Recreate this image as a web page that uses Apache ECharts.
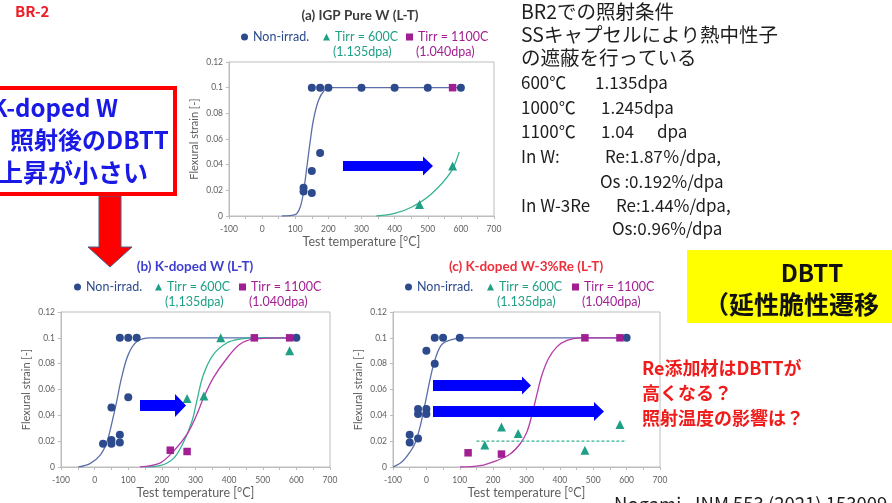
<!DOCTYPE html>
<html>
<head>
<meta charset="utf-8">
<script src="https://cdn.jsdelivr.net/npm/echarts/dist/echarts.min.js"></script>
<style>
html, body { margin: 0; padding: 0; background: #ffffff; }
#c { width: 892px; height: 503px; }
</style>
</head>
<body>
<div id="c"></div>
<script>
// ---- axis ticks ----
const tempTicks = [-100, 0, 100, 200, 300, 400, 500, 600, 700];
const strainTicks = [0, 0.02, 0.04, 0.06, 0.08, 0.1, 0.12];

// ---- legend labels ----
const seriesNames = ['Non-irrad.', 'Tirr = 600C', 'Tirr = 1100C'];
const doseLabels = ['(1.135dpa)', '(1.040dpa)'];
const doseLabelsB = ['(1,135dpa)', '(1.040dpa)'];

// ---- (a) IGP Pure W (L-T) : [test temperature, flexural strain] ----
const pureW_nonIrrad = [[125, 0.022], [125, 0.019], [150, 0.035], [150, 0.018], [175, 0.049],
  [150, 0.1], [175, 0.1], [200, 0.1], [300, 0.1], [400, 0.1], [500, 0.1], [600, 0.1]];
const pureW_600 = [[475, 0.009], [575, 0.039]];
const pureW_1100 = [[575, 0.1]];
const pureW_fitNonIrrad = [[60, 0], [100, 0.001], [115, 0.007], [125, 0.019], [135, 0.038],
  [145, 0.058], [155, 0.075], [170, 0.09], [188, 0.098], [204, 0.1], [600, 0.1]];
const pureW_fit600 = [[345, 0], [400, 0.002], [452, 0.007], [510, 0.017], [569, 0.034], [595, 0.05]];

// ---- (b) K-doped W (L-T) ----
const kW_nonIrrad = [[25, 0.018], [50, 0.018], [50, 0.021], [50, 0.046], [75, 0.019], [75, 0.025],
  [100, 0.054], [75, 0.1], [100, 0.1], [125, 0.1], [600, 0.1]];
const kW_600 = [[275, 0.053], [325, 0.055], [375, 0.1], [580, 0.09]];
const kW_1100 = [[225, 0.013], [275, 0.012], [475, 0.1], [580, 0.1]];
const kW_fitNonIrrad = [[-48, 0], [-14, 0.0026], [16, 0.009], [36, 0.019], [52, 0.035], [65, 0.05],
  [80, 0.069], [100, 0.087], [125, 0.097], [165, 0.1], [600, 0.1]];
const kW_fit600 = [[150, 0], [194, 0.001], [234, 0.0065], [264, 0.019], [289, 0.035], [303, 0.05],
  [323, 0.071], [353, 0.087], [393, 0.096], [432, 0.099], [472, 0.1], [580, 0.1]];
const kW_fit1100 = [[135, 0], [194, 0.003], [234, 0.012], [274, 0.025], [303, 0.04], [323, 0.053],
  [353, 0.069], [393, 0.084], [432, 0.095], [472, 0.099], [580, 0.1]];

// ---- (c) K-doped W-3%Re (L-T) ----
const kWRe_nonIrrad = [[-50, 0.025], [-50, 0.019], [-25, 0.022], [-25, 0.045], [-25, 0.041],
  [0, 0.045], [0, 0.041], [0, 0.09], [25, 0.08], [25, 0.1], [50, 0.1], [100, 0.1], [600, 0.1]];
const kWRe_600 = [[175, 0.017], [225, 0.031], [275, 0.026], [475, 0.013], [580, 0.033]];
const kWRe_1100 = [[125, 0.011], [225, 0.01], [475, 0.1], [580, 0.1]];
const kWRe_fitNonIrrad = [[-100, 0], [-73, 0.004], [-48, 0.012], [-33, 0.019], [-18, 0.032], [-3, 0.05],
  [12, 0.069], [27, 0.084], [47, 0.095], [82, 0.099], [112, 0.1], [600, 0.1]];
const kWRe_fit1100 = [[101, 0], [161, 0.001], [211, 0.005], [251, 0.01], [281, 0.018], [301, 0.027],
  [316, 0.04], [331, 0.056], [346, 0.071], [366, 0.084], [391, 0.093], [421, 0.098], [461, 0.1], [580, 0.1]];
const kWRe_level600 = [[150, 0.02], [600, 0.02]];

// ---- slide text ----
const slideTag = 'BR-2';
const calloutLines = ['K-doped W', '照射後のDBTT', '上昇が小さい'];
const conditionLines = ['BR2での照射条件', 'SSキャプセルにより熱中性子', 'の遮蔽を行っている'];
const doseRows = [['600℃', '1.135dpa'], ['1000℃', '1.245dpa'], ['1100℃', '1.04', 'dpa']];
const transmutationRows = [['In W:', 'Re:1.87％/dpa,'], ['', 'Os :0.192%/dpa'], ['In W-3Re', 'Re:1.44%/dpa,'], ['', 'Os:0.96%/dpa']];
const dbttBox = ['DBTT', '（延性脆性遷移'];
const questionLines = ['Re添加材はDBTTが', '高くなる？', '照射温度の影響は？'];
const citation = 'Nogami, JNM 553 (2021) 153009';

// ---- styling ----
const FONT = "Lato, 'Noto Sans CJK JP', sans-serif";
const JFONT = "'Noto Sans CJK JP', sans-serif";
const NAVY = '#2c4a8c', NAVY_LINE = '#5b6ea9';
const TEAL = '#1f9f85', TEAL_LINE = '#35b393';
const MAG = '#a21f93', MAG_LINE = '#b43ca9';
const AXIS_GRAY = '#bdbdbd', LABEL_GRAY = '#5f5f5f';

const panels = [
  { title: '(a) IGP Pure W (L-T)', titleColor: '#3b3b3b', doses: doseLabels,
    non: pureW_nonIrrad, t600: pureW_600, t1100: pureW_1100,
    fitNon: pureW_fitNonIrrad, fit600: pureW_fit600, fit1100: null, level600: null,
    grid: { left: 229, top: 62, width: 265, height: 154 },
    titleX: 360, titleY: 17, legendTextX: [252, 334, 417], legendY: 37, doseY: 52 },
  { title: '(b) K-doped W (L-T)', titleColor: '#3d3dcf', doses: doseLabelsB,
    non: kW_nonIrrad, t600: kW_600, t1100: kW_1100,
    fitNon: kW_fitNonIrrad, fit600: kW_fit600, fit1100: kW_fit1100, level600: null,
    grid: { left: 61, top: 312, width: 269, height: 155 },
    titleX: 195, titleY: 268, legendTextX: [85, 166, 250], legendY: 287, doseY: 302 },
  { title: '(c) K-doped W-3%Re (L-T)', titleColor: '#ee2e3a', doses: doseLabels,
    non: kWRe_nonIrrad, t600: kWRe_600, t1100: kWRe_1100,
    fitNon: kWRe_fitNonIrrad, fit600: null, fit1100: kWRe_fit1100, level600: kWRe_level600,
    grid: { left: 393, top: 312, width: 267, height: 155 },
    titleX: 526, titleY: 268, legendTextX: [416, 498, 583], legendY: 287, doseY: 302 }
];

const grids = [], xAxes = [], yAxes = [], series = [], titles = [], legends = [], graphics = [];

panels.forEach((p, i) => {
  grids.push(Object.assign({ show: true, borderColor: AXIS_GRAY, borderWidth: 1, backgroundColor: 'transparent' }, p.grid));
  xAxes.push({
    gridIndex: i, type: 'value',
    min: tempTicks[0], max: tempTicks[tempTicks.length - 1], interval: tempTicks[1] - tempTicks[0],
    name: 'Test temperature [°C]', nameLocation: 'middle', nameGap: 20,
    nameTextStyle: { fontFamily: FONT, fontSize: 12.5, color: LABEL_GRAY },
    axisLine: { show: true, onZero: false, lineStyle: { color: AXIS_GRAY } },
    axisTick: { show: true, length: 3, lineStyle: { color: AXIS_GRAY } },
    minorTick: { show: true, splitNumber: 2, length: 3, lineStyle: { color: AXIS_GRAY } },
    axisLabel: { fontFamily: FONT, fontSize: 8.5, color: LABEL_GRAY, margin: 9 },
    splitLine: { show: false }
  });
  yAxes.push({
    gridIndex: i, type: 'value',
    min: strainTicks[0], max: strainTicks[strainTicks.length - 1], interval: strainTicks[1] - strainTicks[0],
    name: 'Flexural strain [-]', nameLocation: 'middle', nameGap: 29,
    nameTextStyle: { fontFamily: FONT, fontSize: 11, color: LABEL_GRAY },
    axisLine: { show: true, onZero: false, lineStyle: { color: AXIS_GRAY } },
    axisTick: { show: true, length: 3, lineStyle: { color: AXIS_GRAY } },
    axisLabel: { fontFamily: FONT, fontSize: 8.5, color: LABEL_GRAY, margin: 6 },
    splitLine: { show: false }
  });

  const fitLine = (name, data, color, dashed) => ({
    name, type: 'line', xAxisIndex: i, yAxisIndex: i, data,
    smooth: 0.35, showSymbol: false, symbol: 'none', silent: true, z: 2,
    lineStyle: { color, width: 1.3, type: dashed ? [3, 2] : 'solid' }
  });
  if (p.fitNon) series.push(fitLine('fit-non-' + i, p.fitNon, NAVY_LINE));
  if (p.fit600) series.push(fitLine('fit-600-' + i, p.fit600, TEAL_LINE));
  if (p.fit1100) series.push(fitLine('fit-1100-' + i, p.fit1100, MAG_LINE));
  if (p.level600) series.push(Object.assign(fitLine('level-600-' + i, p.level600, TEAL_LINE, true), { smooth: false }));

  const pts = (name, data, symbol, color, size) => ({
    name, type: 'scatter', xAxisIndex: i, yAxisIndex: i, data, symbol, symbolSize: size, z: 3,
    itemStyle: { color, opacity: 1 }
  });
  series.push(pts(seriesNames[0], p.non, 'circle', NAVY, 8));
  series.push(pts(seriesNames[1], p.t600, 'triangle', TEAL, 9));
  series.push(pts(seriesNames[2], p.t1100, 'rect', MAG, 7.5));

  titles.push({
    text: p.title, left: p.titleX, top: p.titleY - 8, textAlign: 'center', padding: 0,
    textStyle: { fontFamily: FONT, fontSize: 13.5, fontWeight: 'bold', color: p.titleColor }
  });

  const legendColors = [NAVY, TEAL, MAG];
  const icons = ['circle', 'triangle', 'rect'];
  seriesNames.forEach((nm, k) => {
    legends.push({
      left: p.legendTextX[k] - 11, top: p.legendY - 7, padding: 0,
      itemWidth: 7, itemHeight: 7, itemGap: 0, selectedMode: false,
      data: [{ name: nm, icon: icons[k], textStyle: { color: legendColors[k] } }],
      textStyle: { fontFamily: FONT, fontSize: 12.5, lineHeight: 14 }
    });
  });
  p.doses.forEach((d, k) => {
    graphics.push({ type: 'text', x: p.legendTextX[k + 1] - 1, y: p.doseY, z: 10, silent: true,
      style: { text: d, fill: legendColors[k + 1], font: '12.5px ' + FONT, verticalAlign: 'middle', textVerticalAlign: 'middle' } });
  });
});

// ---- slide annotations ----
const txt = (text, x, y, font, fill, align) => ({
  type: 'text', x, y, z: 20, silent: true,
  style: { text, fill, font, align: align || 'left', textAlign: align || 'left', verticalAlign: 'middle', textVerticalAlign: 'middle' }
});

graphics.push(txt(slideTag, 15, 11, 'bold 15px ' + JFONT, '#ee1c25'));

// callout box with downward arrow
graphics.push({ type: 'rect', z: 15, silent: true, shape: { x: -10, y: 88, width: 185, height: 106 },
  style: { fill: '#ffffff', stroke: '#ff0000', lineWidth: 4 } });
graphics.push(txt(calloutLines[0], -9, 108, 'bold 24px ' + JFONT, '#1a1ae6'));
graphics.push(txt(calloutLines[1], 10, 140, 'bold 24px ' + JFONT, '#1a1ae6'));
graphics.push(txt(calloutLines[2], 148, 172, 'bold 25px ' + JFONT, '#1a1ae6', 'right'));
graphics.push({ type: 'polygon', z: 14, silent: true,
  shape: { points: [[99, 196], [121, 196], [121, 247], [132, 247], [110, 267], [88, 247], [99, 247]] },
  style: { fill: '#ff0000', stroke: '#44618f', lineWidth: 1 } });

// shift arrows
const arrow = (x0, x1, xt, yc, sh, hh) => ({
  type: 'polygon', z: 12, silent: true,
  shape: { points: [[x0, yc - sh], [x1, yc - sh], [x1, yc - hh], [xt, yc], [x1, yc + hh], [x1, yc + sh], [x0, yc + sh]] },
  style: { fill: '#0000ff' }
});
graphics.push(arrow(343, 423, 433, 166, 5, 9.5));
graphics.push(arrow(140, 175, 186, 405.5, 5.5, 11.5));
graphics.push(arrow(433, 522, 531, 385.5, 5.5, 9));
graphics.push(arrow(433, 594, 604, 411.5, 5.5, 9.5));

// irradiation condition notes
const NOTE_FONT = '17px ' + JFONT, NOTE_JP_FONT = '19.5px ' + JFONT, NOTE_COLOR = '#1e1e1e';
const noteY = [12, 35, 58, 83, 108, 132, 157, 182, 206, 229];
conditionLines.forEach((t, k) => graphics.push(txt(t, 521, noteY[k], NOTE_JP_FONT, NOTE_COLOR)));
const doseX = [[521, 595], [521, 601], [521, 601, 657]];
doseRows.forEach((row, k) => row.forEach((t, j) => graphics.push(txt(t, doseX[k][j], noteY[3 + k], NOTE_FONT, NOTE_COLOR))));
const transX = [[521, 605], [521, 600], [521, 616], [521, 612]];
transmutationRows.forEach((row, k) => row.forEach((t, j) => { if (t) graphics.push(txt(t, transX[k][j], noteY[6 + k], NOTE_FONT, NOTE_COLOR)); }));

// DBTT box
graphics.push({ type: 'rect', z: 15, silent: true, shape: { x: 687, y: 250, width: 210, height: 73 }, style: { fill: '#ffff00' } });
graphics.push(txt(dbttBox[0], 812, 273, 'bold 24px ' + JFONT, '#111111', 'center'));
graphics.push(txt(dbttBox[1], 704, 304, 'bold 25px ' + JFONT, '#111111'));

// open questions
questionLines.forEach((t, k) => graphics.push(txt(t, 642, 368 + 25 * k, 'bold 18px ' + JFONT, '#f01c1c')));

// reference
graphics.push(txt(citation, 614, 504, '18.5px ' + JFONT, '#1e1e1e'));

const chart = echarts.init(document.getElementById('c'), null, { renderer: 'canvas' });
chart.setOption({
  backgroundColor: '#ffffff',
  animation: false,
  title: titles,
  legend: legends,
  grid: grids,
  xAxis: xAxes,
  yAxis: yAxes,
  series,
  graphic: graphics
});
</script>
</body>
</html>
